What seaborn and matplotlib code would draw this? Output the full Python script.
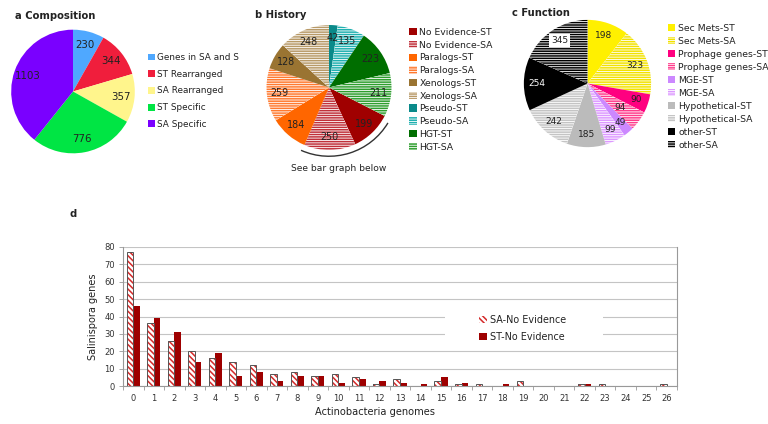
import numpy as np
import pandas as pd
import matplotlib
matplotlib.use("Agg")
import matplotlib.pyplot as plt
import seaborn as sns
from matplotlib.patches import Patch, Rectangle, Arc

sns.set_theme(style="white")
plt.rcParams['font.family'] = ['DejaVu Sans']
plt.rcParams['hatch.linewidth'] = 1.1

# ---------------- data ----------------
comp_labels = ["Genes in SA and S", "ST Rearranged", "SA Rearranged", "ST Specific", "SA Specific"]
comp_values = [230, 344, 357, 776, 1103]
comp_colors = ["#4FA8FF", "#F01E3C", "#FFF58C", "#00E544", "#7A00FF"]

hist_labels = ["No Evidence-ST", "No Evidence-SA", "Paralogs-ST", "Paralogs-SA",
               "Xenologs-ST", "Xenologs-SA", "Pseudo-ST", "Pseudo-SA", "HGT-ST", "HGT-SA"]
hist_values = [199, 250, 184, 259, 128, 248, 42, 135, 223, 211]
hist_colors = ["#A00000", "#C0303A", "#FF6600", "#FF7A30", "#9A7432", "#B89A68",
               "#0A8A8A", "#20B0B0", "#006E00", "#2E9E2E"]

func_labels = ["Sec Mets-ST", "Sec Mets-SA", "Prophage genes-ST", "Prophage genes-SA",
               "MGE-ST", "MGE-SA", "Hypothetical-ST", "Hypothetical-SA", "other-ST", "other-SA"]
func_values = [198, 323, 90, 94, 49, 99, 185, 242, 254, 345]
func_colors = ["#FFF000", "#F2E200", "#FF0080", "#FF3C8C", "#CC88FF", "#DD99FF",
               "#BBBBBB", "#C4C4C4", "#000000", "#000000"]

genomes = list(range(27))
sa_noev = [77, 36, 26, 20, 16, 14, 12, 7, 8, 6, 7, 5, 1, 4, 0, 3, 1, 1, 0, 3, 0, 0, 1, 1, 0, 0, 1]
st_noev = [46, 39, 31, 14, 19, 6, 8, 3, 6, 6, 2, 4, 3, 2, 1, 5, 2, 0, 1, 0, 0, 0, 1, 0, 0, 0, 0]
bar_series = ["SA-No Evidence", "ST-No Evidence"]

# ---------------- figure ----------------
W, H = 768, 424
fig = plt.figure(figsize=(W / 100, H / 100), dpi=100)
fig.patch.set_facecolor("white")
TXT = "#222222"
HATCH_H = "-------"


def square_axes(cx, cy, half):
    return fig.add_axes([(cx - half) / W, 1 - (cy + half) / H, 2 * half / W, 2 * half / H])


def style_wedges(wedges, labels, colors):
    handles = []
    for w, lab, col in zip(wedges, labels, colors):
        if lab.endswith("-SA"):
            w.set_facecolor("white")
            w.set_edgecolor(col)
            w.set_hatch(HATCH_H)
            handles.append(Patch(facecolor="white", edgecolor=col, hatch=HATCH_H, linewidth=0, label=lab))
        else:
            w.set_facecolor(col)
            w.set_edgecolor(col)
            handles.append(Patch(facecolor=col, edgecolor=col, linewidth=0, label=lab))
        w.set_linewidth(0)
    return handles


def make_pct(values):
    total = sum(values)
    return lambda p: f"{p * total / 100:.0f}"


# ---- a Composition ----
axa = square_axes(73, 91.5, 68)
wa, ta, pa = axa.pie(comp_values, colors=comp_colors, startangle=90, counterclock=False,
                     autopct=make_pct(comp_values), pctdistance=0.78,
                     wedgeprops=dict(linewidth=0), textprops=dict(fontsize=7.4, color=TXT))
axa.set_xlim(-1.1, 1.1); axa.set_ylim(-1.1, 1.1); axa.set_aspect("equal")
ha = [Patch(facecolor=c, edgecolor=c, linewidth=0, label=l) for l, c in zip(comp_labels, comp_colors)]
fig.legend(handles=ha, loc="upper left", bbox_to_anchor=(148 / W, 1 - 53 / H), frameon=False,
           fontsize=6.4, handlelength=0.8, handleheight=0.8, handletextpad=0.25,
           labelspacing=0.87, borderpad=0, borderaxespad=0, labelcolor=TXT)
fig.text(15 / W, 1 - 16 / H, "a Composition", fontsize=7.2, weight="bold", va="center", color=TXT)

# ---- b History ----
axb = square_axes(329, 87.5, 75)
start_b = 90 + 360 * sum(hist_values[:6]) / sum(hist_values)
wb, tb, pb = axb.pie(hist_values, startangle=start_b, counterclock=False,
                     autopct=make_pct(hist_values), pctdistance=0.8,
                     wedgeprops=dict(linewidth=0), textprops=dict(fontsize=6.9, color=TXT))
hb = style_wedges(wb, hist_labels, hist_colors)
axb.set_xlim(-1.2, 1.2); axb.set_ylim(-1.2, 1.2); axb.set_aspect("equal")
axb.add_patch(Arc((0, 0), 2.2, 2.2, theta1=-114, theta2=-31, color="#333333", lw=1.0))
axb.text(0.15, -1.29, "See bar graph below", ha="center", va="center", fontsize=6.6, color=TXT, clip_on=False)
fig.legend(handles=hb, loc="upper left", bbox_to_anchor=(409 / W, 1 - 28 / H), frameon=False,
           fontsize=6.7, handlelength=0.85, handleheight=0.85, handletextpad=0.25,
           labelspacing=0.4, borderpad=0, borderaxespad=0, labelcolor=TXT)
fig.text(255 / W, 1 - 15 / H, "b History", fontsize=7.2, weight="bold", va="center", color=TXT)

# ---- c Function ----
axc = square_axes(587.5, 83.5, 70)
wc, tc, pc = axc.pie(func_values, startangle=90, counterclock=False,
                     autopct=make_pct(func_values), pctdistance=0.8,
                     wedgeprops=dict(linewidth=0), textprops=dict(fontsize=6.5, color=TXT))
hc = style_wedges(wc, func_labels, func_colors)
for t, lab in zip(pc, func_labels):
    if lab == "other-ST":
        t.set_color("white")
    if lab == "other-SA":
        t.set_bbox(dict(facecolor="white", edgecolor="none", pad=1.5))
    if lab == "Prophage genes-SA":
        x, y = t.get_position()
        t.set_position((x * 0.8, y * 0.8))
axc.set_xlim(-1.1, 1.1); axc.set_ylim(-1.1, 1.1); axc.set_aspect("equal")
fig.legend(handles=hc, loc="upper left", bbox_to_anchor=(668 / W, 1 - 24 / H), frameon=False,
           fontsize=6.7, handlelength=0.8, handleheight=0.8, handletextpad=0.3,
           labelspacing=0.43, borderpad=0, borderaxespad=0, labelcolor=TXT)
fig.text(512 / W, 1 - 13 / H, "c Function", fontsize=7.2, weight="bold", va="center", color=TXT)

# ---- d bar chart ----
fig.text(70 / W, 1 - 214 / H, "d", fontsize=7.2, weight="bold", va="center", color=TXT)
df = pd.DataFrame({
    "genomes": genomes * 2,
    "genes": sa_noev + st_noev,
    "series": [bar_series[0]] * len(genomes) + [bar_series[1]] * len(genomes),
})
axd = fig.add_axes([123 / W, 1 - 386 / H, 554 / W, 139 / H])
sns.barplot(data=df, x="genomes", y="genes", hue="series", hue_order=bar_series,
            palette={bar_series[0]: "white", bar_series[1]: "#9E0000"}, saturation=1,
            width=0.64, gap=0, legend=False, ax=axd, zorder=2)
SA_RED = "#D42A2A"
BAR_HATCH = "\\\\\\\\\\\\"
for bar in axd.containers[0]:
    bar.set_facecolor("white")
    bar.set_edgecolor(SA_RED)
    bar.set_hatch(BAR_HATCH)
    bar.set_linewidth(0)
    if bar.get_height() > 0:
        axd.add_patch(Rectangle(bar.get_xy(), bar.get_width(), bar.get_height(), fill=False,
                                edgecolor="#555555", linewidth=0.7, zorder=3))
for bar in axd.containers[1]:
    bar.set_linewidth(0)

axd.set_ylim(0, 80)
axd.set_yticks(range(0, 81, 10))
axd.yaxis.grid(True, color="#c4c4c4", linestyle="-", linewidth=0.8)
axd.set_axisbelow(True)
for s in ["left", "bottom", "right"]:
    axd.spines[s].set_color("#999999")
    axd.spines[s].set_linewidth(0.8)
axd.spines["top"].set_visible(False)
axd.tick_params(axis="y", length=3, width=0.6, color="#999999", labelsize=6, labelcolor="#333333", pad=3, left=True)
axd.tick_params(axis="x", which="major", length=0, labelsize=6, labelcolor="#333333", pad=6)
axd.set_xticks(np.arange(-0.5, len(genomes), 1), minor=True)
axd.tick_params(axis="x", which="minor", length=3, width=0.6, color="#999999", bottom=True, direction="out")
axd.set_xlabel("Actinobacteria genomes", fontsize=7.1, color=TXT)
axd.set_ylabel("Salinispora genes", fontsize=7, color=TXT)
axd.xaxis.set_label_coords(0.455, -0.15)
axd.yaxis.set_label_coords(-0.045, 0.5)

axd.add_patch(Rectangle((0.581, 0.295), 0.285, 0.252, transform=axd.transAxes,
                        facecolor="white", edgecolor="none", zorder=1))
hd = [Patch(facecolor="white", edgecolor=SA_RED, hatch=BAR_HATCH, linewidth=0, label=bar_series[0]),
      Patch(facecolor="#9E0000", edgecolor="#9E0000", linewidth=0, label=bar_series[1])]
leg = axd.legend(handles=hd, loc="upper left", bbox_to_anchor=(0.643, 0.511), frameon=False,
                 fontsize=6.9, handlelength=0.85, handleheight=0.85, handletextpad=0.3,
                 labelspacing=0.72, borderpad=0, borderaxespad=0, labelcolor=TXT)

fig.savefig("out.png", dpi=100, facecolor="white")
